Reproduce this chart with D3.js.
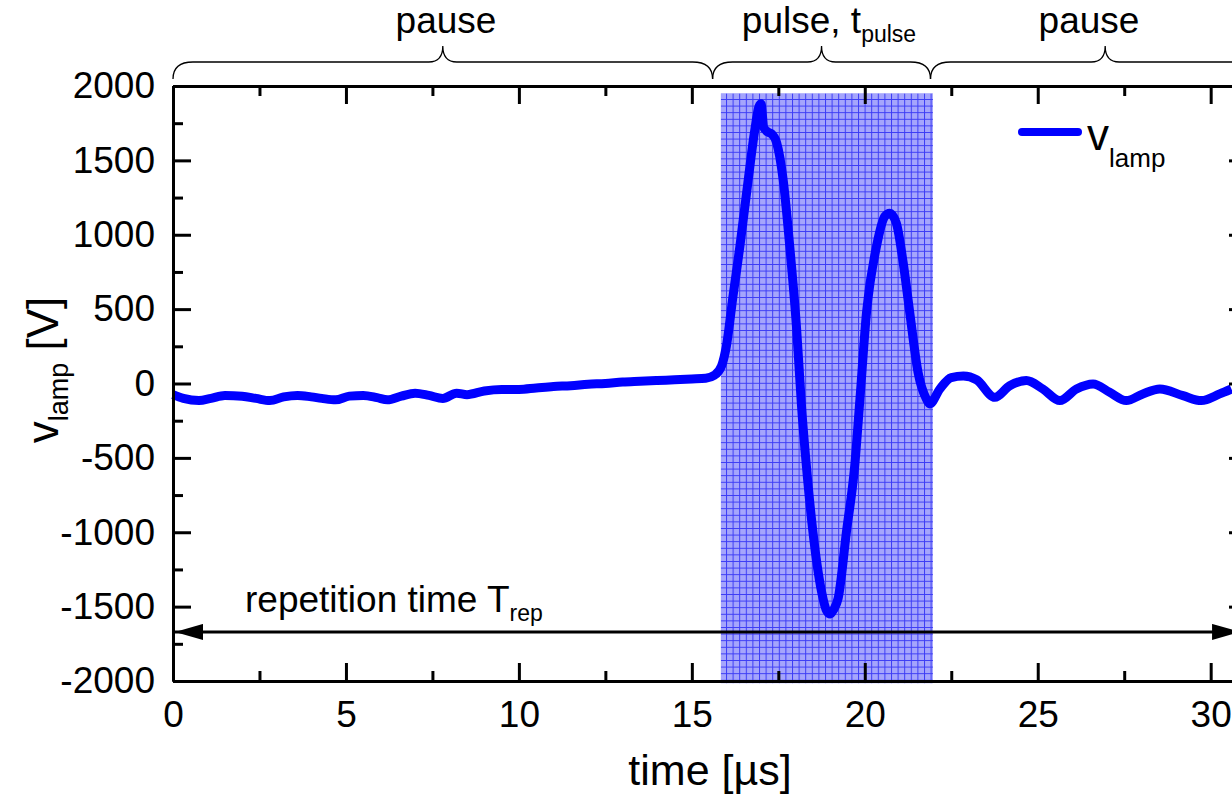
<!DOCTYPE html>
<html>
<head>
<meta charset="utf-8">
<script src="https://cdn.jsdelivr.net/npm/d3@7.9.0/dist/d3.min.js"></script>
<style>
  body { margin: 0; background: #fff; }
  svg { display: block; font-family: "Liberation Sans", Arial, sans-serif; }
</style>
</head>
<body>
<svg id="vis"></svg>
<script>
const width = 1232;
const height = 802;

// --- data ---
const timeUs = [0, 0.3, 0.75, 1.1, 1.5, 2.0, 2.4, 2.8, 3.2, 3.6, 4.0, 4.3, 4.7, 5.1, 5.5, 5.9, 6.2, 6.6, 7.0, 7.4, 7.8,
  8.2, 8.5, 9.0, 9.5, 10.0, 10.5, 11.0, 11.5, 12.0, 12.5, 13.0, 13.5, 14.0, 14.5, 15.0, 15.4, 15.65,
  15.86, 16.0, 16.19, 16.39, 16.63, 16.82, 16.94, 17.0, 17.08, 17.2, 17.3, 17.45, 17.64, 17.83, 18.03, 18.17,
  18.31, 18.5, 18.75, 18.9, 19.0, 19.1, 19.23, 19.47, 19.71, 19.86, 20.05, 20.34, 20.58, 20.72, 20.91, 21.11,
  21.3, 21.54, 21.78, 21.88, 22.17, 22.5, 22.85, 23.23, 23.76, 24.19, 24.67, 25.15, 25.64, 26.12, 26.6,
  27.08, 27.56, 28.04, 28.53, 29.2, 29.73, 30.26, 30.6];
const vLamp = [-75, -100, -115, -100, -80, -85, -100, -115, -90, -80, -90, -100, -110, -85, -80, -95, -110, -85, -65, -80, -100,
  -65, -75, -50, -40, -40, -30, -20, -15, -5, 0, 10, 15, 20, 25, 30, 35, 55,
  119, 253, 588, 923, 1370, 1705, 1861, 1880, 1720, 1690, 1680, 1620, 1370, 923, 365, -149,
  -551, -997, -1399, -1530, -1550, -1520, -1444, -997, -551, -104, 477, 923, 1124, 1145, 1080, 812,
  477, 75, -104, -137, -37, 40, 50, 25, -93, -15, 20, -37, -115, -37, -3,
  -59, -115, -70, -37, -82, -115, -70, -37];

const xMajor = [0, 5, 10, 15, 20, 25, 30];
const xMinor = [2.5, 7.5, 12.5, 17.5, 22.5, 27.5];
const yMajor = [-2000, -1500, -1000, -500, 0, 500, 1000, 1500, 2000];
const yMinor = [-1750, -1250, -750, -250, 250, 750, 1250, 1750];

const pulseSpan = [15.84, 21.97];       // shaded pulse window [µs]
const pulseVRange = [-2015, 1950];
const braceSpans = [[0, 15.6], [15.6, 21.9], [21.9, 32]];
const braceLabels = ["pause", "pulse, t", "pause"];
const braceSubs = ["", "pulse", ""];
const arrowLevel = -1670;               // repetition time arrow

const blue = "#0000ff";

const svg = d3.select("#vis").attr("width", width).attr("height", height);

const x = d3.scaleLinear().domain([0, 31.05]).range([173, 1247]);
const y = d3.scaleLinear().domain([-2000, 2000]).range([681, 86]);

const defs = svg.append("defs");
const pat = defs.append("pattern")
  .attr("id", "grid")
  .attr("width", 6.6).attr("height", 6.6)
  .attr("patternUnits", "userSpaceOnUse");
pat.append("rect").attr("width", 6.6).attr("height", 6.6).attr("fill", "rgb(165,165,252)");
pat.append("path").attr("d", "M0,0.5H6.6M0.5,0V6.6")
  .attr("stroke", "rgb(60,60,245)").attr("stroke-width", 1);

// shaded pulse window
svg.append("rect")
  .attr("x", x(pulseSpan[0]))
  .attr("y", y(pulseVRange[1]))
  .attr("width", x(pulseSpan[1]) - x(pulseSpan[0]))
  .attr("height", y(pulseVRange[0]) - y(pulseVRange[1]))
  .attr("fill", "url(#grid)");

// trace
const pts = timeUs.map((t, i) => [t, vLamp[i]]);
const line = d3.line().x(d => x(d[0])).y(d => y(d[1])).curve(d3.curveMonotoneX);
svg.append("path")
  .datum(pts)
  .attr("d", line)
  .attr("fill", "none")
  .attr("stroke", blue)
  .attr("stroke-width", 9)
  .attr("stroke-linejoin", "round")
  .attr("stroke-linecap", "butt");

// axes
function styleAxis(g) {
  g.select(".domain").attr("stroke", "#000").attr("stroke-width", 3);
  g.selectAll(".tick line").attr("stroke", "#000").attr("stroke-width", 3);
  g.selectAll(".tick text").attr("fill", "#000").style("font-size", "37px");
}
const fmt = d => String(d);

svg.append("g").attr("transform", `translate(0,${y(-2000)})`)
  .call(d3.axisBottom(x).tickValues(xMajor).tickFormat(fmt).tickSize(-18).tickSizeOuter(0).tickPadding(20))
  .call(styleAxis);
svg.append("g").attr("transform", `translate(0,${y(-2000)})`)
  .call(d3.axisBottom(x).tickValues(xMinor).tickFormat("").tickSize(-10).tickSizeOuter(0))
  .call(styleAxis);
svg.append("g").attr("transform", `translate(0,${y(2000)})`)
  .call(d3.axisTop(x).tickValues(xMajor).tickFormat("").tickSize(-18).tickSizeOuter(0))
  .call(styleAxis);
svg.append("g").attr("transform", `translate(0,${y(2000)})`)
  .call(d3.axisTop(x).tickValues(xMinor).tickFormat("").tickSize(-10).tickSizeOuter(0))
  .call(styleAxis);

svg.append("g").attr("transform", `translate(${x(0)},0)`)
  .call(d3.axisLeft(y).tickValues(yMajor).tickFormat(fmt).tickSize(-18).tickSizeOuter(0).tickPadding(18))
  .call(styleAxis);
svg.append("g").attr("transform", `translate(${x(0)},0)`)
  .call(d3.axisLeft(y).tickValues(yMinor).tickFormat("").tickSize(-10).tickSizeOuter(0))
  .call(styleAxis);
svg.append("g").attr("transform", `translate(${x.range()[1]},0)`)
  .call(d3.axisRight(y).tickValues(yMajor).tickFormat("").tickSize(-18).tickSizeOuter(0))
  .call(styleAxis);
svg.append("g").attr("transform", `translate(${x.range()[1]},0)`)
  .call(d3.axisRight(y).tickValues(yMinor).tickFormat("").tickSize(-10).tickSizeOuter(0))
  .call(styleAxis);

// axis titles
svg.append("text")
  .attr("x", 710).attr("y", 785)
  .attr("text-anchor", "middle")
  .style("font-size", "43px")
  .text("time [µs]");

const yt = svg.append("text")
  .attr("transform", "translate(58,370) rotate(-90)")
  .attr("text-anchor", "middle")
  .style("font-size", "44px");
yt.append("tspan").text("v");
yt.append("tspan").attr("dy", 10).style("font-size", "27px").text("lamp");
yt.append("tspan").attr("dy", -10).text(" [V]");

// legend
svg.append("line")
  .attr("x1", 1022).attr("x2", 1078).attr("y1", 132).attr("y2", 132)
  .attr("stroke", blue).attr("stroke-width", 8).attr("stroke-linecap", "round");
const lg = svg.append("text").attr("x", 1087).attr("y", 150).style("font-size", "44px");
lg.append("tspan").text("v");
lg.append("tspan").attr("dy", 17).style("font-size", "26px").text("lamp");

// repetition time arrow
defs.append("marker")
  .attr("id", "head")
  .attr("viewBox", "0 0 28 16")
  .attr("refX", 28).attr("refY", 8)
  .attr("markerWidth", 28).attr("markerHeight", 16)
  .attr("markerUnits", "userSpaceOnUse")
  .attr("orient", "auto-start-reverse")
  .append("path").attr("d", "M0,0L28,8L0,16Z").attr("fill", "#000");
svg.append("line")
  .attr("x1", x(0) + 2).attr("x2", x(30.85))
  .attr("y1", y(arrowLevel)).attr("y2", y(arrowLevel))
  .attr("stroke", "#000").attr("stroke-width", 3)
  .attr("marker-start", "url(#head)").attr("marker-end", "url(#head)");
const rt = svg.append("text").attr("x", 245).attr("y", 612).style("font-size", "37px");
rt.append("tspan").text("repetition time T");
rt.append("tspan").attr("dy", 9).style("font-size", "23px").text("rep");

// braces on top
function bracePath(a, b) {
  const m = (a + b) / 2, e = 79, f = 62, c = 46, r = 20, rc = 14;
  return `M${a},${e}Q${a},${f} ${a + r},${f}L${m - rc},${f}Q${m},${f} ${m},${c}` +
    `Q${m},${f} ${m + rc},${f}L${b - r},${f}Q${b},${f} ${b},${e}`;
}
svg.append("g").selectAll("path")
  .data(braceSpans)
  .join("path")
  .attr("d", d => bracePath(x(d[0]), x(d[1])))
  .attr("fill", "none")
  .attr("stroke", "#000")
  .attr("stroke-width", 1.3);

const labelX = [446, 829, 1089];
braceLabels.forEach((lab, i) => {
  const t = svg.append("text")
    .attr("x", labelX[i]).attr("y", 33)
    .attr("text-anchor", "middle")
    .style("font-size", "37px");
  t.append("tspan").text(lab);
  if (braceSubs[i]) t.append("tspan").attr("dy", 9).style("font-size", "23px").text(braceSubs[i]);
});
</script>
</body>
</html>
